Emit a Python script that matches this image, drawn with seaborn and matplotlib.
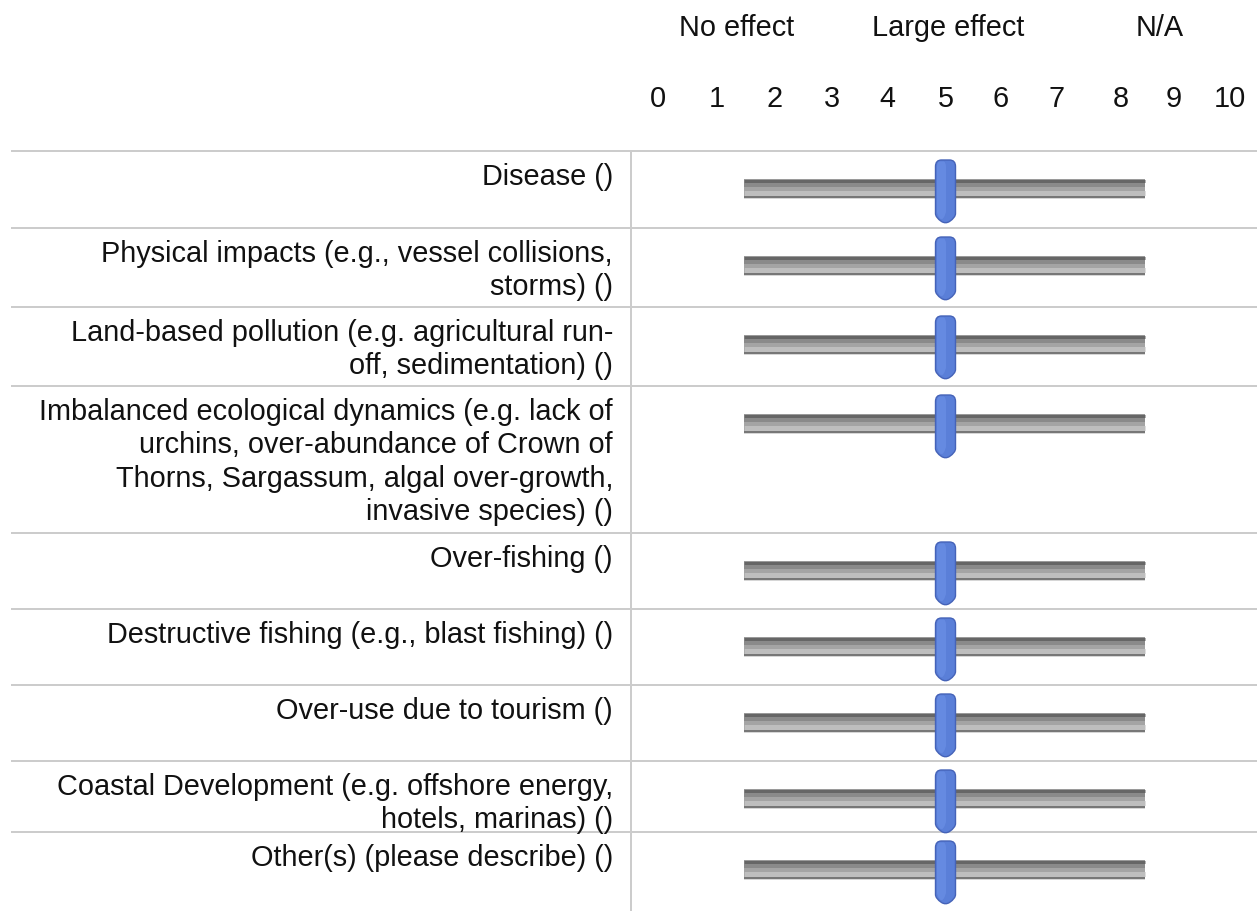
import numpy as np
import pandas as pd
import matplotlib.pyplot as plt
import seaborn as sns
from matplotlib.path import Path

# ---- data -------------------------------------------------------------
items = [
    "Disease ()",
    "Physical impacts (e.g., vessel collisions,\nstorms) ()",
    "Land-based pollution (e.g. agricultural run-\noff, sedimentation) ()",
    "Imbalanced ecological dynamics (e.g. lack of\nurchins, over-abundance of Crown of\n"
    "Thorns, Sargassum, algal over-growth,\ninvasive species) ()",
    "Over-fishing ()",
    "Destructive fishing (e.g., blast fishing) ()",
    "Over-use due to tourism ()",
    "Coastal Development (e.g. offshore energy,\nhotels, marinas) ()",
    "Other(s) (please describe) ()",
]
slider_values = [5, 5, 5, 5, 5, 5, 5, 5, 5]
scale_labels = ["0", "1", "2", "3", "4", "5", "6", "7", "8", "9", "10"]
anchor_labels = ["No effect", "Large effect", "N/A"]
slider_min, slider_max = 0, 10

# ---- layout (pixels) --------------------------------------------------
W, H = 1257, 911
ROW_EDGES = [151, 228, 307, 386, 533, 609, 685, 761, 832, 911]
TRACK_PX = (744, 1145)
SCALE_PX = [658, 717, 775, 832, 887, 946, 1001, 1057, 1121, 1174, 1230]
ANCHOR_PX = [737, 948, 1160]
LABEL_RIGHT_PX = 613
DIVIDER_PX = 631
PX = 0.72  # points per pixel at dpi=100


def px2v(p):
    return (p - TRACK_PX[0]) / (TRACK_PX[1] - TRACK_PX[0]) * (slider_max - slider_min) + slider_min


sns.set_theme(style="white")
plt.rcParams["font.family"] = ["Liberation Sans", "DejaVu Sans"]
TXT = "#111111"
FS = 20.8

fig = plt.figure(figsize=(W / 100, H / 100), dpi=100)
ax = fig.add_axes([0, 0, 1, 1])
ax.set_xlim(px2v(0), px2v(W))
ax.set_ylim(H, 0)
ax.axis("off")

# header
for lbl, p in zip(anchor_labels, ANCHOR_PX):
    ax.text(px2v(p), 28, lbl, ha="center", va="center", fontsize=FS, color=TXT)
for lbl, p in zip(scale_labels, SCALE_PX):
    ax.text(px2v(p), 99, lbl, ha="center", va="center", fontsize=FS, color=TXT)

# grid lines
tops = ROW_EDGES[:-1]
ax.hlines(tops, px2v(11), px2v(W), color="#cccccc", lw=2 * PX, zorder=1)
ax.vlines(px2v(DIVIDER_PX), ROW_EDGES[0], ROW_EDGES[-1], color="#cccccc", lw=2 * PX, zorder=1)

# row labels
for lbl, top in zip(items, tops):
    ax.text(px2v(LABEL_RIGHT_PX), top + 12, lbl, ha="right", va="top",
            multialignment="right", linespacing=1.24, fontsize=FS, color=TXT)

# slider tracks (layered gray bands)
track_y = np.array(tops) + 37.5
bands = [
    (0.0, 20, "#d6d6d6"),
    (-0.5, 18, "#9a9a9a"),
    (-7.5, 3, "#666666"),
    (-4.0, 4, "#8a8a8a"),
    (0.0, 4, "#a4a4a4"),
    (4.0, 5, "#bebebe"),
    (8.5, 2, "#777777"),
]
for dy, w, c in bands:
    ax.hlines(track_y + dy, slider_min, slider_max, color=c, lw=w * PX,
              capstyle="butt", zorder=2)

# slider handles
verts = [(-10, 25), (-10, 31.5), (-4, 31.5), (4, 31.5), (10, 31.5), (10, 25),
         (10, -22), (10, -26), (4, -30), (0, -32.5), (-4, -30),
         (-10, -26), (-10, -22), (-10, 25)]
codes = [Path.MOVETO, Path.CURVE3, Path.CURVE3, Path.LINETO, Path.CURVE3, Path.CURVE3,
         Path.LINETO, Path.CURVE3, Path.CURVE3, Path.CURVE3, Path.CURVE3,
         Path.CURVE3, Path.CURVE3, Path.CLOSEPOLY]
handle = Path(verts, codes)

df = pd.DataFrame({"item": items, "value": slider_values,
                   "y": np.array(tops) + 39.5})
sns.scatterplot(data=df, x="value", y="y", marker=handle, s=(65 * PX) ** 2,
                color="#5a7fd8", edgecolor="#4563b8", linewidth=1.0,
                legend=False, ax=ax, zorder=5)
# soft highlight on the left half of the knob
hl = Path([(v[0] * 0.45 - 3, v[1] * 0.92) for v in verts], codes)
sns.scatterplot(data=df, x="value", y="y", marker=hl, s=(65 * 0.92 * PX) ** 2,
                color="#6b8fe6", edgecolor="none", linewidth=0,
                legend=False, ax=ax, zorder=6, alpha=0.7)

fig.savefig("out.png", dpi=100)
